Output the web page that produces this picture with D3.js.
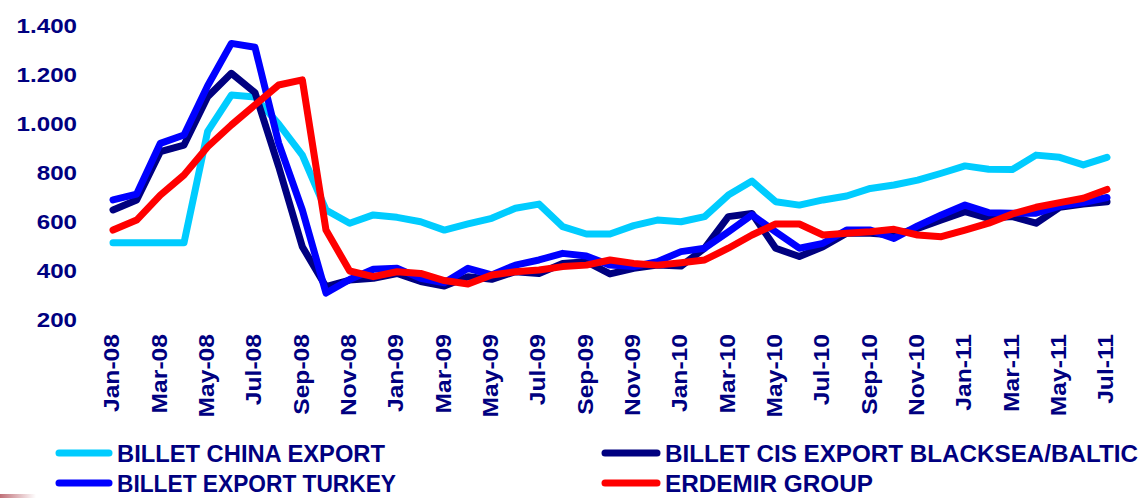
<!DOCTYPE html>
<html>
<head>
<meta charset="utf-8">
<script src="https://cdn.jsdelivr.net/npm/d3@7"></script>
<style>
  html, body { margin: 0; padding: 0; background: #ffffff; }
  svg { display: block; }
  text { font-family: "Liberation Sans", Arial, sans-serif; font-weight: bold; fill: #000080; }
</style>
</head>
<body>
<svg id="chart" width="1143" height="498"></svg>
<script>
const months = ["Jan-08","Feb-08","Mar-08","Apr-08","May-08","Jun-08","Jul-08","Aug-08","Sep-08","Oct-08","Nov-08","Dec-08",
  "Jan-09","Feb-09","Mar-09","Apr-09","May-09","Jun-09","Jul-09","Aug-09","Sep-09","Oct-09","Nov-09","Dec-09",
  "Jan-10","Feb-10","Mar-10","Apr-10","May-10","Jun-10","Jul-10","Aug-10","Sep-10","Oct-10","Nov-10","Dec-10",
  "Jan-11","Feb-11","Mar-11","Apr-11","May-11","Jun-11","Jul-11"];
const tickLabels = ["Jan-08","Mar-08","May-08","Jul-08","Sep-08","Nov-08","Jan-09","Mar-09","May-09","Jul-09","Sep-09","Nov-09",
  "Jan-10","Mar-10","May-10","Jul-10","Sep-10","Nov-10","Jan-11","Mar-11","May-11","Jul-11"];
const yTicks = [200, 400, 600, 800, 1000, 1200, 1400];

const chinaExport = [515,515,515,515,970,1118,1110,1000,873,649,595,629,619,601,567,592,615,656,673,581,551,551,585,608,601,622,710,767,683,669,690,706,737,751,771,799,829,815,814,873,864,833,864];
const cisExport = [649,690,887,914,1111,1207,1128,826,499,336,363,370,390,357,339,377,366,397,390,431,438,388,411,424,420,493,622,635,493,459,499,554,554,547,574,608,642,615,622,595,660,673,683];
const turkeyExport = [690,714,921,955,1156,1329,1313,922,649,310,365,407,411,370,352,411,384,424,445,472,461,424,418,438,479,493,560,629,560,493,513,567,567,533,584,629,669,638,636,636,665,679,700];
const erdemir = [567,608,710,792,907,996,1078,1159,1180,567,400,377,397,390,361,347,384,397,404,418,424,445,431,424,434,445,493,547,592,592,547,554,560,570,547,540,567,595,633,660,679,697,733];

const seriesNames = ["BILLET CHINA EXPORT","BILLET CIS EXPORT BLACKSEA/BALTIC","BILLET EXPORT TURKEY","ERDEMIR GROUP"];
const seriesColors = ["#00CCFF","#000080","#0000FF","#FF0000"];
const seriesValues = [chinaExport, cisExport, turkeyExport, erdemir];

const svg = d3.select("#chart");
const x = d3.scalePoint().domain(months).range([113, 1107]);
const y = d3.scaleLinear().domain([200, 1400]).range([320, 26]);

const loc = d3.formatLocale({decimal: ",", thousands: ".", grouping: [3], currency: ["", ""]});
const fmt = loc.format(",");

// Y axis (labels only)
const yAxis = d3.axisLeft(y).tickValues(yTicks).tickFormat(fmt).tickSize(0).tickPadding(0);
const gy = svg.append("g").attr("transform", "translate(77,0)").call(yAxis);
gy.select(".domain").remove();
gy.selectAll("text").style("font-size", "21px").attr("fill", "#000080")
  .style("font-family", "'Liberation Sans', Arial, sans-serif").style("font-weight", "bold")
  .attr("x", 0)
  .attr("transform", "scale(1.15,1)");

// X axis (rotated labels only)
const xAxis = d3.axisBottom(x).tickValues(tickLabels).tickSize(0).tickPadding(0);
const gx = svg.append("g").attr("transform", "translate(0,334)").call(xAxis);
gx.select(".domain").remove();
gx.selectAll("text")
  .style("font-size", "22px").attr("fill", "#000080")
  .style("font-family", "'Liberation Sans', Arial, sans-serif").style("font-weight", "bold")
  .attr("text-anchor", "end")
  .attr("transform", "rotate(-90) scale(1.12,1)")
  .attr("x", 0).attr("y", -2).attr("dy", "0.35em");

// Lines
const line = d3.line().x((d, i) => x(months[i])).y(d => y(d));
seriesValues.forEach((vals, k) => {
  svg.append("path")
    .datum(vals)
    .attr("d", line)
    .attr("fill", "none")
    .attr("stroke", seriesColors[k])
    .attr("stroke-width", 7)
    .attr("stroke-linejoin", "round")
    .attr("stroke-linecap", "round");
});

// Legend
const legendPos = [[56, 453, 117], [602, 453, 665], [56, 483, 117], [602, 483, 665]];
const legendOrder = [0, 1, 2, 3];
const legendWidths = [268, 473, 279, 208];
legendOrder.forEach((k, j) => {
  const [sx, sy, tx] = legendPos[j];
  const g = svg.append("g");
  g.append("line")
    .attr("x1", sx + 3).attr("x2", tx - 8)
    .attr("y1", sy).attr("y2", sy)
    .attr("stroke", seriesColors[k]).attr("stroke-width", 7).attr("stroke-linecap", "round");
  g.append("text")
    .attr("x", tx).attr("y", sy).attr("dy", "0.36em")
    .style("font-size", "24px")
    .attr("textLength", legendWidths[k]).attr("lengthAdjust", "spacingAndGlyphs")
    .text(seriesNames[k]);
});

// small decorative fade in bottom-left corner
const defs = svg.append("defs");
const grad = defs.append("linearGradient").attr("id", "fade");
grad.append("stop").attr("offset", "0%").attr("stop-color", "#c07078");
grad.append("stop").attr("offset", "100%").attr("stop-color", "#ffffff");
svg.append("rect").attr("x", 0).attr("y", 494).attr("width", 36).attr("height", 4).attr("fill", "url(#fade)");
</script>
</body>
</html>
